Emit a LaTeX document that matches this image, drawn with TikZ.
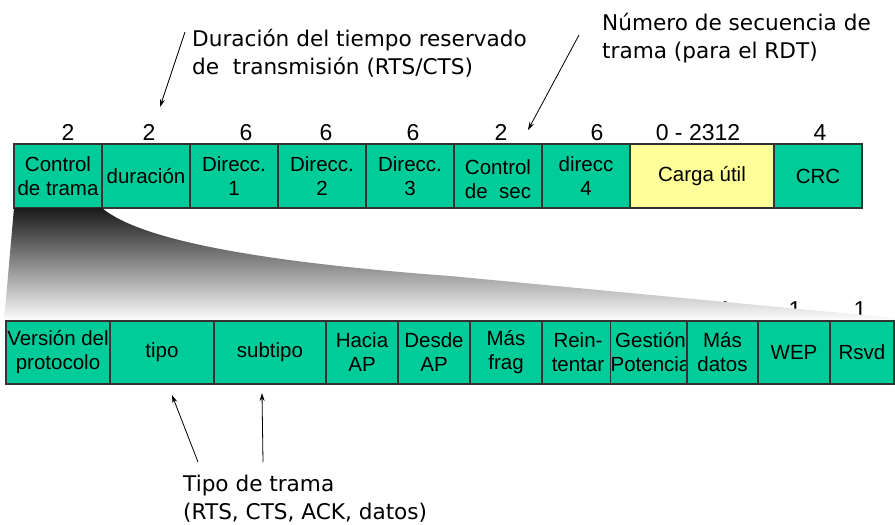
\documentclass[tikz,border=0pt]{standalone}
\usepackage{fontspec}
\setmainfont{Liberation Sans}
\newfontfamily\annfont{DejaVu Sans}
\usetikzlibrary{arrows.meta}
\definecolor{fieldgreen}{RGB}{0,204,153}
\definecolor{fieldyellow}{RGB}{255,255,153}
\begin{document}
\begin{tikzpicture}[x=1pt,y=-1pt,
  field/.style={draw=black!80, line width=1.1pt, fill=fieldgreen, inner sep=0pt, outer sep=0pt,
                align=center, font=\fontsize{20.5}{24}\selectfont},
  toprow/.style={field, minimum height=64pt},
  botrow/.style={field, minimum height=63pt},
  bits/.style={font=\fontsize{23}{26}\selectfont, inner sep=0pt, anchor=base},
  note/.style={font=\annfont\fontsize{21.6}{28}\selectfont, align=left, inner sep=0pt, anchor=west},
  pointer/.style={-{Stealth[length=8pt,width=5pt]}, line width=0.8pt}]
\useasboundingbox (0,0) rectangle (895,525);

% ---- top frame row ----
\node[toprow, minimum width=88pt] (fc)  at (58,176)  {Control\\de trama};
\node[toprow, minimum width=88pt] (dur) at (146,176) {duración};
\node[toprow, minimum width=88pt] (a1)  at (234,176) {Direcc.\\1};
\node[toprow, minimum width=88pt] (a2)  at (322,176) {Direcc.\\2};
\node[toprow, minimum width=88pt] (a3)  at (410,176) {Direcc.\\3};
\node[toprow, minimum width=88pt] (sc)  at (498,176) {\raisebox{-6pt}[\height][\depth]{\begin{tabular}{@{}c@{}}Control\\de\ \ sec\end{tabular}}};
\node[toprow, minimum width=88pt] (a4)  at (586,176) {direcc\\4};
\node[toprow, minimum width=144pt, fill=fieldyellow] (pl) at (702,176) {Carga útil};
\node[toprow, minimum width=88pt] (crc) at (818,176) {CRC};

% ---- byte counts ----
\node[bits] (n1) at (68,140)  {2};
\node[bits] (n2) at (149,140) {2};
\node[bits] (n3) at (246,140) {6};
\node[bits] (n4) at (326,140) {6};
\node[bits] (n5) at (413,140) {6};
\node[bits] (n6) at (501,140) {2};
\node[bits] (n7) at (597,140) {6};
\node[bits] (n8) at (698,140) {0 - 2312};
\node[bits] (n9) at (820,140) {4};

% ---- bit counts (mostly hidden) ----
\node[bits] (b9)  at (725,317) {1};
\node[bits] (b10) at (795,317) {1};
\node[bits] (b11) at (860,317) {1};

% ---- expansion wedge ----
\shade[top color=black!90, middle color=black!30, bottom color=white]
  (14,208) -- (102,208) .. controls (140,240) and (260,262) .. (450,276)
  -- (895,318) -- (895,321) -- (4,321) -- cycle;

% ---- bottom frame-control row ----
\node[botrow, minimum width=104pt] (ver)  at (58,352.5)  {Versión del\\protocolo};
\node[botrow, minimum width=104pt] (typ)  at (162,352.5) {tipo};
\node[botrow, minimum width=112pt] (sub)  at (270,352.5) {subtipo};
\node[botrow, minimum width=72pt]  (tds)  at (362,352.5) {Hacia\\AP};
\node[botrow, minimum width=72pt]  (fds)  at (434,352.5) {Desde\\AP};
\node[botrow, minimum width=72pt]  (mf)   at (506,352.5) {Más\\frag};
\node[botrow, minimum width=72pt]  (rt)   at (578,352.5) {Rein-\\tentar};
\node[botrow, minimum width=73pt]  (pw)   at (650.5,352.5) {Gestión\\Potencia};
\node[botrow, minimum width=71pt]  (md)   at (722.5,352.5) {Más\\datos};
\node[botrow, minimum width=72pt]  (wep)  at (794,352.5) {WEP};
\node[botrow, minimum width=64pt]  (rsv)  at (862,352.5) {Rsvd};

% ---- annotations ----
\node[note] (durnote) at (192,53) {Duración del tiempo reservado\\de\ \ transmisión (RTS/CTS)};
\node[note] (seqnote) at (602,38) {Número de secuencia de\\trama (para el RDT)};
\node[note] (typnote) at (183,499) {Tipo de trama\\(RTS, CTS, ACK, datos)};

\coordinate (durtail) at (185,32);
\coordinate (durhead) at (160,107);
\coordinate (seqtail) at (579,35);
\coordinate (seqhead) at (528,130);
\coordinate (typtail) at (198,462);
\coordinate (typhead) at (172,395);
\coordinate (subtail) at (263,462);
\coordinate (subhead) at (262,393);

\draw[pointer] (durtail) -- (durhead);
\draw[pointer] (seqtail) -- (seqhead);
\draw[pointer] (typtail) -- (typhead);
\draw[pointer] (subtail) -- (subhead);
\end{tikzpicture}
\end{document}
